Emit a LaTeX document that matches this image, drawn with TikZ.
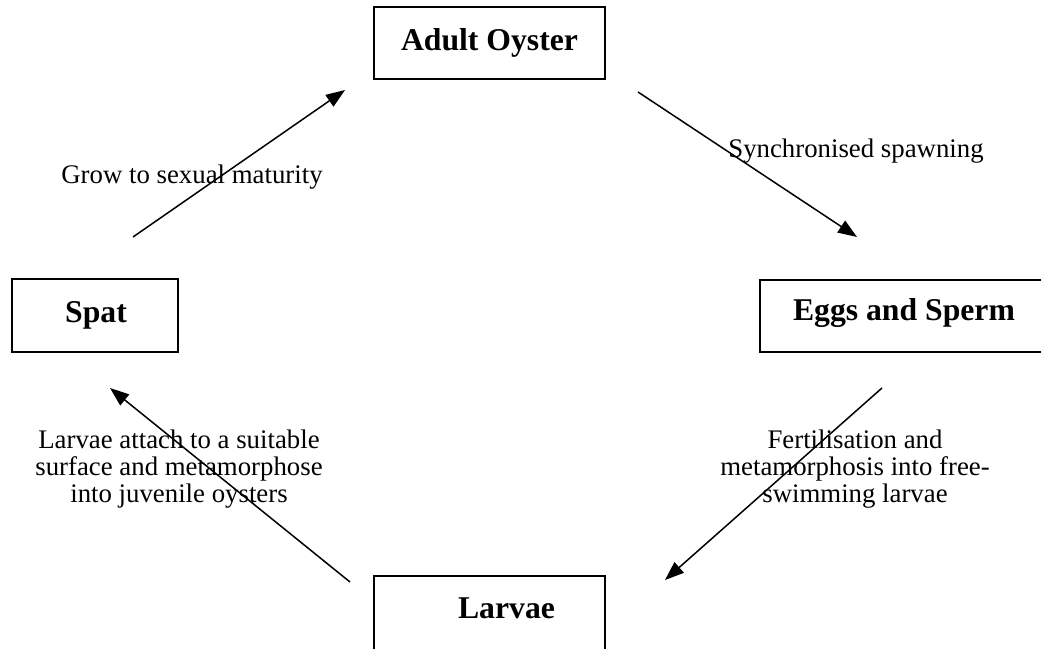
\documentclass[tikz,border=0pt]{standalone}
\usepackage{fontspec}
\setmainfont{Liberation Serif}
\usetikzlibrary{arrows.meta}
\begin{document}
\begin{tikzpicture}[x=1pt,y=-1pt,
  stagebox/.style={draw,line width=1.5pt,inner sep=0pt},
  stagetext/.style={font=\fontsize{31.7}{38}\selectfont\bfseries,inner sep=0pt,anchor=base},
  steplabel/.style={font=\fontsize{26.8}{27}\selectfont,inner sep=0pt,align=center},
  flow/.style={line width=1.5pt,-{Triangle[length=19pt,width=14pt]}}
]
\useasboundingbox (0,0) rectangle (1041,648);
\fill[white] (0,0) rectangle (1041,648);
% boxes
\node[stagebox,minimum width=231pt,minimum height=72pt] (adult) at (489.5,43) {};
\node[stagetext] (adultT) at (489.5,50) {Adult Oyster};
\node[stagebox,minimum width=166pt,minimum height=73pt] (spat) at (95,315.5) {};
\node[stagetext] (spatT) at (96,322) {Spat};
\node[stagebox,minimum width=287pt,minimum height=72pt] (eggs) at (903.5,316) {};
\node[stagetext] (eggsT) at (904,320) {Eggs and Sperm};
\node[stagebox,minimum width=231pt,minimum height=76pt] (larvae) at (489.5,614) {};
\node[stagetext] (larvaeT) at (506.5,618) {Larvae};
% arrow ends
\coordinate (g1) at (133,237); \coordinate (g2) at (345,90);
\coordinate (s1) at (638,92); \coordinate (s2) at (857,237);
\coordinate (f1) at (882,388); \coordinate (f2) at (665,580);
\coordinate (a1) at (350,582); \coordinate (a2) at (110,388);
% labels
\node[steplabel,anchor=base] (growL) at (192,183) {Grow to sexual maturity};
\node[steplabel,anchor=base] (syncL) at (856,157) {Synchronised spawning};
\node[steplabel] (fertL) at (855,469) {Fertilisation and\\metamorphosis into free-\\swimming larvae};
\node[steplabel] (attL) at (179,469) {Larvae attach to a suitable\\surface and metamorphose\\into juvenile oysters};
% arrows
\draw[flow] (g1) -- (g2);
\draw[flow] (s1) -- (s2);
\draw[flow] (f1) -- (f2);
\draw[flow] (a1) -- (a2);
\end{tikzpicture}
\end{document}
